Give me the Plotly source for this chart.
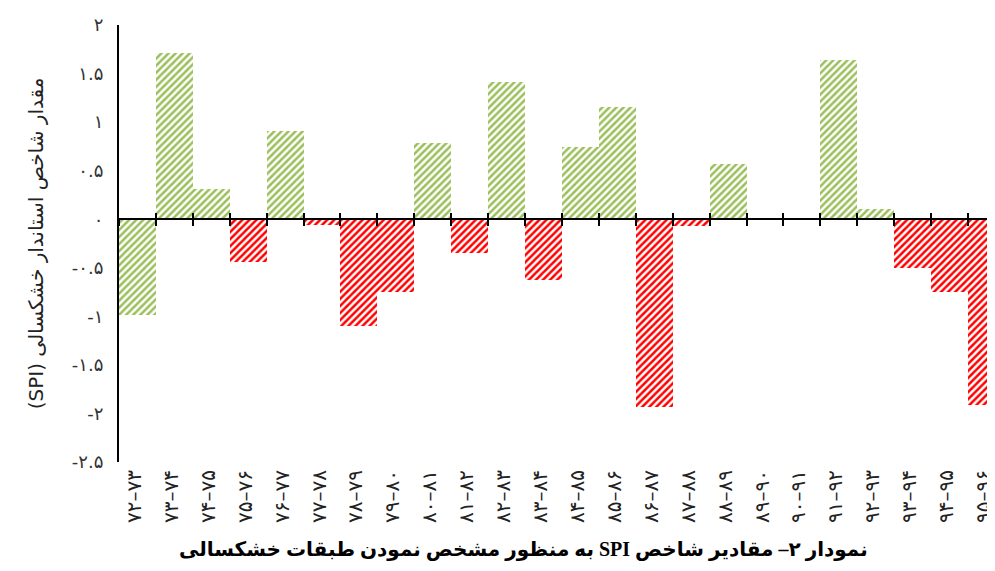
import plotly.graph_objects as go

categories = ["۷۲–۷۳", "۷۳–۷۴", "۷۴–۷۵", "۷۵–۷۶", "۷۶–۷۷", "۷۷–۷۸", "۷۸–۷۹", "۷۹–۸۰",
              "۸۰–۸۱", "۸۱–۸۲", "۸۲–۸۳", "۸۳–۸۴", "۸۴–۸۵", "۸۵–۸۶", "۸۶–۸۷", "۸۷–۸۸",
              "۸۸–۸۹", "۸۹–۹۰", "۹۰–۹۱", "۹۱–۹۲", "۹۲–۹۳", "۹۳–۹۴", "۹۴–۹۵", "۹۵–۹۶"]
spi = [-0.99, 1.71, 0.31, -0.44, 0.91, -0.06, -1.10, -0.75,
       0.78, -0.35, 1.41, -0.63, 0.74, 1.16, -1.93, -0.07,
       0.57, 0.0, 0.0, 1.64, 0.11, -0.50, -0.75, -1.91]
bar_colors = ["#9bbf5a", "#9bbf5a", "#9bbf5a", "#ff0000", "#9bbf5a", "#ff0000", "#ff0000", "#ff0000",
              "#9bbf5a", "#ff0000", "#9bbf5a", "#ff0000", "#9bbf5a", "#9bbf5a", "#ff0000", "#ff0000",
              "#9bbf5a", "#9bbf5a", "#9bbf5a", "#9bbf5a", "#9bbf5a", "#ff0000", "#ff0000", "#ff0000"]
y_tickvals = [2, 1.5, 1, 0.5, 0, -0.5, -1, -1.5, -2, -2.5]
y_ticktext = ["۲", "۱.۵", "۱", "۰.۵", "۰", "-۰.۵", "-۱", "-۱.۵", "-۲", "-۲.۵"]
y_title = "مقدار شاخص استاندار خشکسالی (SPI)"
caption = "نمودار ۲– مقادیر شاخص SPI به منظور مشخص نمودن طبقات خشکسالی"

RLE, PDF = "\u202B", "\u202C"

y_min, y_max = -2.5, 2.0
n = len(categories)
x_range = [-0.5, n - 0.77]
zero_pos = (0 - y_min) / (y_max - y_min)
boundaries = [i - 0.5 for i in range(n + 1)]

fig = go.Figure()
fig.add_trace(go.Bar(
    x=categories, y=spi,
    marker=dict(color="white", line=dict(width=0),
                pattern=dict(shape="/", fgcolor=bar_colors, bgcolor="white",
                             size=5, solidity=0.5, fillmode="replace")),
    showlegend=False, hoverinfo="skip",
))
# invisible helper traces so the zero-line axes (x2 above ticks / x3 below ticks) are drawn
for ax in ("x2", "x3"):
    fig.add_trace(go.Scatter(x=[boundaries[0]], y=[0], xaxis=ax, yaxis="y",
                             mode="markers", marker=dict(size=0, opacity=0),
                             showlegend=False, hoverinfo="skip"))

# the page body has an 8px default margin, so the figure is sized 8px smaller
fig.update_layout(
    width=987, height=563,
    margin=dict(l=111, r=0, t=17, b=109, autoexpand=False),
    paper_bgcolor="white", plot_bgcolor="white",
    bargap=0,
    font=dict(family="Liberation Serif, DejaVu Sans", color="#222"),
    xaxis=dict(
        type="category", range=x_range, showline=False, showgrid=False,
        zeroline=False, ticks="", tickangle=-90, ticklabeloverflow="allow",
        automargin=False, ticklabelshift=-3, ticklabelstandoff=3,
        tickfont=dict(size=20, family="DejaVu Sans", color="#222"),
    ),
    xaxis2=dict(
        overlaying="x", anchor="free", position=zero_pos, side="bottom",
        type="linear", range=x_range, showline=True, linecolor="black", linewidth=2,
        tickmode="array", tickvals=boundaries, ticks="outside", ticklen=6,
        tickwidth=2, tickcolor="black", showticklabels=False, showgrid=False,
        zeroline=False, automargin=False,
    ),
    xaxis3=dict(
        overlaying="x", anchor="free", position=zero_pos, side="bottom",
        type="linear", range=x_range, showline=False,
        tickmode="array", tickvals=boundaries, ticks="inside", ticklen=6,
        tickwidth=2, tickcolor="black", showticklabels=False, showgrid=False,
        zeroline=False, automargin=False,
    ),
    yaxis=dict(
        range=[y_min, y_max], showline=True, linecolor="black", linewidth=2,
        showgrid=False, zeroline=False, ticks="", automargin=False,
        tickmode="array", tickvals=y_tickvals, ticktext=y_ticktext,
        tickfont=dict(size=18, family="DejaVu Sans", color="#333"),
        ticklabelstandoff=10,
    ),
    annotations=[
        dict(text=RLE + y_title + PDF, xref="paper", yref="paper", x=-0.095, y=0.5,
             xanchor="center", yanchor="middle", textangle=-90, showarrow=False,
             font=dict(size=20, family="DejaVu Sans", color="#222")),
        dict(text="<b>" + RLE + caption + PDF + "</b>", xref="paper", yref="paper",
             x=0.462, y=-0.201, xanchor="center", yanchor="middle", showarrow=False,
             font=dict(size=20, family="Liberation Serif, DejaVu Sans", color="black")),
    ],
)

fig.write_html("out.html")
